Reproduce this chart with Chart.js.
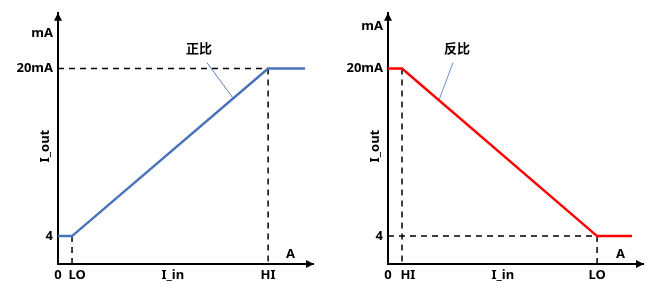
<!DOCTYPE html>
<html><head><meta charset="utf-8">
<script src="https://cdn.jsdelivr.net/npm/chart.js@4/dist/chart.umd.min.js"></script>
<style>
html,body{margin:0;padding:0;background:#fff;}
#wrap{position:relative;width:662px;height:297px;}
#c1{position:absolute;left:0;top:0;}
#c2{position:absolute;left:330px;top:0;}
</style></head>
<body><div id="wrap"><canvas id="c1" width="330" height="297"></canvas><canvas id="c2" width="332" height="297"></canvas></div>
<script>
// ---- shared ranges ----
const xRange = [0, 100];
const yRange = [1.333, 25.333];

// ---- left panel (正比) ----
const leftXTickValues = [0, 7.5, 45, 82.4];
const leftXTickLabels = ['0', 'LO', 'I_in', 'HI'];
const leftYTickValues = [4, 20, 23.4];
const leftYTickLabels = ['4', '20mA', 'mA'];
const leftLineX = [0, 5.5, 82.4, 96.9];
const leftLineY = [4, 4, 20, 20];
const leftGuides = [[0, 20, 82.4, 20], [82.4, 20, 82.4, 1.333], [5.5, 4, 5.5, 1.333]];
const leftLeader = [[58.4, 20.57], [68.6, 17.2]];
const leftNote = ['正比', 55.3, 21.8];

// ---- right panel (反比) ----
const rightXTickValues = [0, 7.8, 45, 82.0];
const rightXTickLabels = ['0', 'HI', 'I_in', 'LO'];
const rightYTickValues = [4, 20, 24.0];
const rightYTickLabels = ['4', '20mA', 'mA'];
const rightLineX = [0, 5.5, 82.0, 95.7];
const rightLineY = [20, 20, 4, 4];
const rightGuides = [[5.5, 20, 5.5, 1.333], [0, 4, 82.0, 4], [82.0, 4, 82.0, 1.333]];
const rightLeader = [[25.5, 20.57], [20.0, 17.0]];
const rightNote = ['反比', 27.1, 21.8];

const axisLabelA = ['A', 91.2, 2.3];
const yTitle = ['I_out', 12.6];

const FONT = '"Noto Sans", "Noto Sans CJK SC", sans-serif';

function pts(xs, ys) { return xs.map((x, i) => ({x: x, y: ys[i]})); }

const decorPlugin = {
  id: 'decor',
  afterDraw(chart) {
    const ctx = chart.ctx, a = chart.chartArea;
    const sx = chart.scales.x, sy = chart.scales.y;
    const o = chart.options.plugins.decor;
    ctx.save();
    ctx.fillStyle = '#000';
    // arrow heads on axes
    ctx.beginPath();
    ctx.moveTo(a.left, a.top);
    ctx.lineTo(a.left - 4, a.top + 8);
    ctx.lineTo(a.left + 4, a.top + 8);
    ctx.closePath(); ctx.fill();
    ctx.beginPath();
    ctx.moveTo(a.right + 1, a.bottom);
    ctx.lineTo(a.right - 7, a.bottom - 4);
    ctx.lineTo(a.right - 7, a.bottom + 4);
    ctx.closePath(); ctx.fill();
    // texts
    ctx.font = 'bold 13px ' + FONT;
    ctx.textAlign = 'center'; ctx.textBaseline = 'middle';
    ctx.fillText(o.a[0], sx.getPixelForValue(o.a[1]), sy.getPixelForValue(o.a[2]));
    ctx.fillText(o.note[0], sx.getPixelForValue(o.note[1]), sy.getPixelForValue(o.note[2]));
    // y axis title
    ctx.save();
    ctx.translate(sy.left + 45, sy.getPixelForValue(o.title[1]));
    ctx.rotate(-Math.PI / 2);
    ctx.fillText(o.title[0], 0, 0);
    ctx.restore();
    ctx.restore();
  }
};

function makeChart(id, p) {
  const datasets = [];
  datasets.push({data: pts(p.lx, p.ly), borderColor: p.color, borderWidth: 2.5, pointRadius: 0, order: 0});
  datasets.push({data: p.leader.map(v => ({x: v[0], y: v[1]})), borderColor: p.leaderColor, borderWidth: 1, pointRadius: 0, order: 1});
  p.guides.forEach(g => datasets.push({data: [{x: g[0], y: g[1]}, {x: g[2], y: g[3]}], borderColor: '#000', borderWidth: 1.5, borderDash: [6, 5], pointRadius: 0, order: 2}));
  return new Chart(document.getElementById(id), {
    type: 'line',
    data: {datasets: datasets},
    options: {
      responsive: false, animation: false,
      layout: {padding: {left: 0, top: 12, right: p.padRight, bottom: 0}},
      plugins: {legend: {display: false}, tooltip: {enabled: false}, decor: {a: axisLabelA, note: p.note, title: yTitle}},
      scales: {
        x: {
          type: 'linear', min: xRange[0], max: xRange[1],
          grid: {display: false, drawTicks: false},
          border: {display: true, color: '#000', width: 2},
          afterBuildTicks: s => { s.ticks = p.xt.map(v => ({value: v})); },
          afterFit: s => { s.height = 33; },
          ticks: {padding: 3, color: '#000', font: {family: FONT, size: 13, weight: 'bold'}, maxRotation: 0, autoSkip: false,
                  callback: (v, i) => p.xl[i]}
        },
        y: {
          type: 'linear', min: yRange[0], max: yRange[1],
          grid: {display: false, drawTicks: false},
          border: {display: true, color: '#000', width: 2},
          afterBuildTicks: s => { s.ticks = p.yt.map(v => ({value: v})); },
          afterFit: s => { s.width = 58; },
          ticks: {padding: 5, color: '#000', font: {family: FONT, size: 13, weight: 'bold'}, autoSkip: false,
                  callback: (v, i) => p.yl[i]}
        }
      }
    },
    plugins: [decorPlugin]
  });
}

makeChart('c1', {lx: leftLineX, ly: leftLineY, guides: leftGuides, leader: leftLeader, note: leftNote,
  xt: leftXTickValues, xl: leftXTickLabels, yt: leftYTickValues, yl: leftYTickLabels,
  color: '#4a74b9', leaderColor: '#5b7fb8', padRight: 17});
makeChart('c2', {lx: rightLineX, ly: rightLineY, guides: rightGuides, leader: rightLeader, note: rightNote,
  xt: rightXTickValues, xl: rightXTickLabels, yt: rightYTickValues, yl: rightYTickLabels,
  color: '#ff0000', leaderColor: '#6a8fc8', padRight: 19});
</script></body></html>
